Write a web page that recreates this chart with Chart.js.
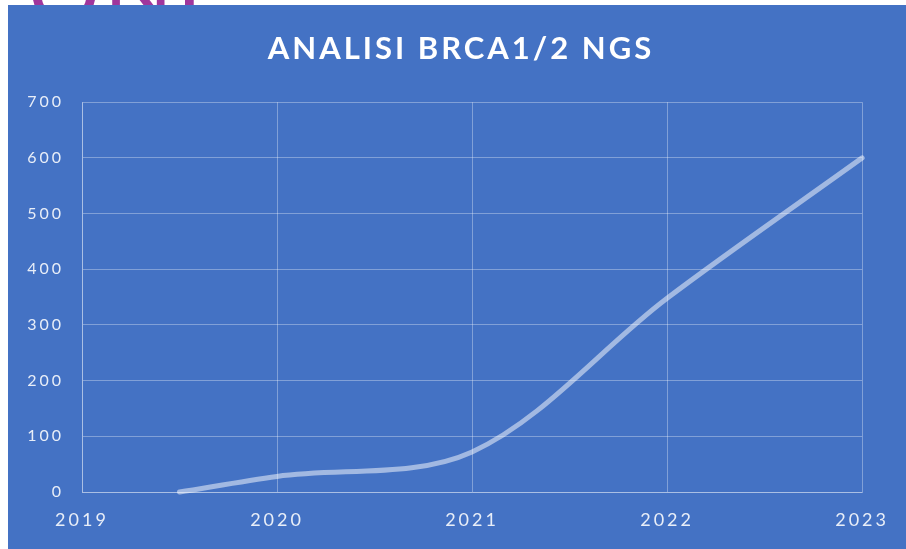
<!DOCTYPE html>
<html>
<head>
<meta charset="utf-8">
<script src="https://cdn.jsdelivr.net/npm/chart.js@4"></script>
<style>
  html, body { margin: 0; padding: 0; background: #fff; }
  body { width: 906px; height: 549px; position: relative; overflow: hidden; }
  #mark { position: absolute; left: 28px; top: -65px; font: 90px Lato, sans-serif; color: #a0369c; letter-spacing: 4px; }
  #box { position: absolute; left: 8px; top: 5px; width: 898px; height: 544px; background: #4472c4; }
</style>
</head>
<body>
<div id="mark">ONI</div>
<div id="box"><canvas id="chart" width="898" height="544"></canvas></div>
<script>
const years = [2019.5, 2020, 2021, 2022, 2023];
const analisi = [0, 28, 72, 348, 600];
const titleText = 'ANALISI BRCA1/2 NGS';

const white = 'rgba(255,255,255,0.88)';
const gridCol = 'rgba(255,255,255,0.33)';

// letter spacing for every text drawn on the canvas,
// and the title centred a bit right like the original
const spacing = {
    id: 'spacing',
    beforeUpdate(chart){ chart.ctx.letterSpacing = '3px'; },
    afterLayout(chart){ if (chart.titleBlock) chart.titleBlock.left = 50; },
    beforeDraw(chart){ chart.ctx.letterSpacing = '3px'; }
};

const ctx = document.getElementById('chart');
const chart = new Chart(ctx, {
    type: 'scatter',
    data: {
        datasets: [{
            label: 'Analisi',
            data: years.map((y, i) => ({x: y, y: analisi[i]})),
            showLine: true,
            borderColor: 'rgba(255,255,255,0.5)',
            borderWidth: 5,
            borderCapStyle: 'round',
            tension: 0.33,
            pointRadius: 0,
            clip: false
        }]
    },
    options: {
        responsive: false,
        animation: false,
        events: [],
        layout: { padding: { left: 0, right: 42, top: 0, bottom: 0 } },
        plugins: {
            legend: { display: false },
            tooltip: { enabled: false },
            title: {
                display: true,
                text: titleText,
                color: '#ffffff',
                font: { family: 'Lato', size: 31, weight: 'bold' },
                padding: { top: 25, bottom: 35 }
            }
        },
        scales: {
            x: {
                type: 'linear',
                min: 2019,
                max: 2023,
                ticks: {
                    stepSize: 1,
                    color: white,
                    padding: 17,
                    font: { family: 'Lato', size: 18 },
                    callback: v => String(v)
                },
                grid: { color: gridCol, drawTicks: false },
                border: { color: gridCol },
                afterFit(s){ s.height = 57; }
            },
            y: {
                min: 0,
                max: 700,
                ticks: {
                    stepSize: 100,
                    color: white,
                    padding: 18,
                    font: { family: 'Lato', size: 16 }
                },
                grid: { color: gridCol, drawTicks: false },
                border: { color: gridCol },
                afterFit(s){ s.width = 74; }
            }
        }
    },
    plugins: [spacing]
});
</script>
</body>
</html>
